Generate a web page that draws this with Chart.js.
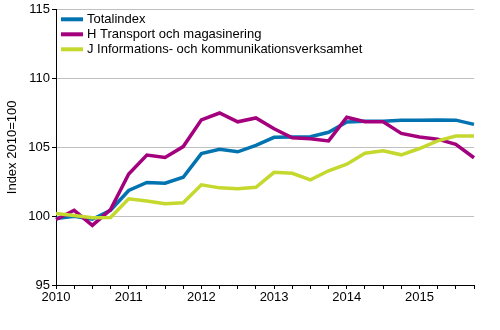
<!DOCTYPE html>
<html lang="sv">
<head>
    <meta charset="UTF-8">
    <title>Index 2010=100</title>
    <script src="https://cdn.jsdelivr.net/npm/chart.js"></script>
    <style>
        body { margin: 0; background: #fff; }
        #wrap { width: 500px; height: 330px; }
    </style>
</head>
<body>
    <div id="wrap"><canvas id="myChart" width="500" height="330"></canvas></div>

    <script>
        // quarters 2010Q1 .. 2015Q4
        const quarters = [
            '2010Q1','2010Q2','2010Q3','2010Q4',
            '2011Q1','2011Q2','2011Q3','2011Q4',
            '2012Q1','2012Q2','2012Q3','2012Q4',
            '2013Q1','2013Q2','2013Q3','2013Q4',
            '2014Q1','2014Q2','2014Q3','2014Q4',
            '2015Q1','2015Q2','2015Q3','2015Q4'
        ];

        const totalindex = [99.83, 100.0, 99.78, 100.43, 101.87, 102.45, 102.4, 102.83,
            104.55, 104.87, 104.68, 105.15, 105.73, 105.76, 105.77, 106.1,
            106.84, 106.9, 106.9, 106.98, 106.98, 107.0, 106.98, 106.67];

        const transport = [99.76, 100.43, 99.33, 100.48, 103.07, 104.44, 104.27, 105.06,
            107.0, 107.5, 106.86, 107.14, 106.35, 105.7, 105.63, 105.47,
            107.19, 106.86, 106.86, 106.02, 105.76, 105.6, 105.23, 104.25];

        const information = [100.19, 100.05, 99.88, 99.9, 101.27, 101.1, 100.91, 100.98,
            102.28, 102.06, 101.99, 102.1, 103.19, 103.12, 102.64, 103.3,
            103.78, 104.58, 104.75, 104.46, 104.92, 105.47, 105.83, 105.83];

        const seriesNames = [
            'Totalindex',
            'H Transport och magasinering',
            'J Informations- och kommunikationsverksamhet'
        ];
        const seriesColors = ['#0073b0', '#a4007d', '#c4d82e'];

        const fontFamily = '"Liberation Sans", Arial, sans-serif';

        // legend drawn inside the plot area, top left
        const insideLegend = {
            id: 'insideLegend',
            afterDraw(chart) {
                const ctx = chart.ctx;
                const left = chart.chartArea.left + 5;
                ctx.save();
                ctx.font = '13px ' + fontFamily;
                ctx.textBaseline = 'middle';
                chart.data.datasets.forEach((ds, i) => {
                    const y = chart.chartArea.top + 9.5 + i * 15;
                    ctx.strokeStyle = ds.borderColor;
                    ctx.lineWidth = 4;
                    ctx.beginPath();
                    ctx.moveTo(left, y);
                    ctx.lineTo(left + 22, y);
                    ctx.stroke();
                    ctx.fillStyle = '#000';
                    ctx.fillText(ds.label, left + 26, y + 0.5);
                });
                ctx.restore();
            }
        };

        const ctx = document.getElementById('myChart').getContext('2d');

        const myChart = new Chart(ctx, {
            type: 'line',
            data: {
                labels: quarters,
                datasets: [
                    {
                        label: seriesNames[0],
                        data: totalindex,
                        borderColor: seriesColors[0],
                        borderWidth: 3.5,
                        pointRadius: 0,
                        fill: false,
                        order: 3
                    },
                    {
                        label: seriesNames[1],
                        data: transport,
                        borderColor: seriesColors[1],
                        borderWidth: 3.5,
                        pointRadius: 0,
                        fill: false,
                        order: 2
                    },
                    {
                        label: seriesNames[2],
                        data: information,
                        borderColor: seriesColors[2],
                        borderWidth: 3.5,
                        pointRadius: 0,
                        fill: false,
                        order: 1
                    }
                ]
            },
            options: {
                responsive: false,
                animation: false,
                layout: { padding: { left: 0, right: 26, top: 7, bottom: 0 } },
                plugins: {
                    legend: { display: false },
                    tooltip: { enabled: false }
                },
                scales: {
                    x: {
                        offset: false,
                        border: { color: '#000', width: 1 },
                        grid: {
                            drawOnChartArea: false,
                            tickColor: '#000',
                            tickLength: 4
                        },
                        ticks: {
                            autoSkip: false,
                            maxRotation: 0,
                            padding: 1,
                            color: '#000',
                            font: { family: fontFamily, size: 13 },
                            callback: function (val) {
                                const q = this.getLabelForValue(val);
                                return q.endsWith('Q1') ? q.slice(0, 4) : '';
                            }
                        },
                        afterFit: (scale) => { scale.height = 45; }
                    },
                    y: {
                        min: 95,
                        max: 115,
                        border: { color: '#000', width: 1 },
                        grid: {
                            color: '#c0c0c0',
                            tickColor: '#000',
                            tickLength: 4
                        },
                        ticks: {
                            stepSize: 5,
                            padding: 2,
                            color: '#000',
                            font: { family: fontFamily, size: 13 }
                        },
                        title: {
                            display: true,
                            text: 'Index 2010=100',
                            color: '#000',
                            padding: { top: 5, bottom: 0 },
                            font: { family: fontFamily, size: 13 }
                        },
                        afterFit: (scale) => { scale.width = 56; }
                    }
                }
            },
            plugins: [insideLegend]
        });
    </script>
</body>
</html>
